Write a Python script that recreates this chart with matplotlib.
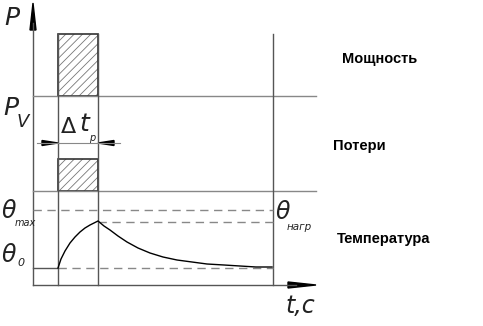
import matplotlib
matplotlib.use("Agg")
import matplotlib.pyplot as plt
from matplotlib.patches import Rectangle, Polygon

# schematic layout (pixel space of the original drawing)
x_axis = 33
x_on, x_off, x_end = 58, 98, 273
x_right = 316
y_top, y_p_sep, y_v_sep, y_base = 3, 96, 191, 285
power_box = [34, 96]        # top, bottom of hatched power pulse
loss_box = [159, 191]       # top, bottom of hatched loss pulse
y_theta_max = 210
y_theta_heat = 222
y_theta0 = 268

# temperature curve
curve_x = [58, 61, 65, 70, 75, 80, 85, 90, 94, 98,
           104, 110, 118, 127, 138, 150, 163, 177, 192, 207, 224, 240, 256, 272]
curve_y = [268, 259, 251, 243, 237, 232, 228, 225, 223, 221,
           226, 230, 236, 242, 248, 253, 257, 260, 262, 264, 265, 266, 267, 267]

labels = ["Мощность", "Потери", "Температура"]
label_x = [380, 359, 384]
label_y = [59, 146, 239]

gray = "#555555"
lgray = "#888888"

plt.rcParams['hatch.linewidth'] = 0.6
fig = plt.figure(figsize=(4.83, 3.26), dpi=100)
ax = fig.add_axes([0, 0, 1, 1])
ax.set_xlim(0, 483)
ax.set_ylim(326, 0)
ax.axis("off")

# axes
ax.plot([x_axis, x_axis], [y_top + 20, y_base], color=gray, lw=1)
ax.add_patch(Polygon([[x_axis, y_top], [x_axis - 3, y_top + 27], [x_axis + 3, y_top + 27]],
                     closed=True, color="black"))
ax.plot([x_axis, x_right - 20], [y_base, y_base], color=gray, lw=1)
ax.add_patch(Polygon([[x_right, y_base], [x_right - 28, y_base - 3], [x_right - 28, y_base + 3]],
                     closed=True, color="black"))

# separators
for y in [y_p_sep, y_v_sep]:
    ax.plot([x_axis, x_right], [y, y], color=lgray, lw=1)

# verticals
ax.plot([x_on, x_on], [power_box[0], y_base], color=gray, lw=1)
ax.plot([x_off, x_off], [power_box[0], y_base], color=gray, lw=1)
ax.plot([x_end, x_end], [power_box[0], y_base], color=gray, lw=1)

# hatched pulses
for top, bot in [power_box, loss_box]:
    ax.add_patch(Rectangle((x_on, top), x_off - x_on, bot - top, facecolor="white",
                           edgecolor="#777777", hatch="////", lw=0))
    ax.add_patch(Rectangle((x_on, top), x_off - x_on, bot - top, fill=False,
                           edgecolor="#333333", lw=1.2))

# delta t dimension
y_dt = 143
ax.plot([37, 120], [y_dt, y_dt], color=lgray, lw=0.8)
ax.add_patch(Polygon([[x_on, y_dt], [x_on - 16, y_dt - 2.5], [x_on - 16, y_dt + 2.5]], closed=True, color="black"))
ax.add_patch(Polygon([[x_off, y_dt], [x_off + 16, y_dt - 2.5], [x_off + 16, y_dt + 2.5]], closed=True, color="black"))

# temperature levels
dash = dict(color=lgray, lw=1, dashes=(6, 4))
ax.plot([x_axis, x_end], [y_theta_max, y_theta_max], **dash)
ax.plot([x_off, x_end], [y_theta_heat, y_theta_heat], **dash)
ax.plot([x_on, x_end], [y_theta0, y_theta0], **dash)
ax.plot([x_axis, x_on], [y_theta0, y_theta0], color=gray, lw=1)
ax.plot(curve_x, curve_y, color="black", lw=1)

# symbols
sym = dict(family="DejaVu Sans", style="italic",
           color="#222222", va="center", ha="left")
ax.text(4, 18, "P", fontsize=18, **sym)
ax.text(3, 108, "P", fontsize=18, **sym)
ax.text(17, 122, "V", fontsize=13, **sym)
ax.text(61, 127, "Δ", family="DejaVu Sans", fontsize=16, color="#222222", va="center", ha="left")
ax.text(79, 124, "t", fontsize=18, **sym)
ax.text(89, 138, "p", fontsize=7, **sym)
ax.text(2, 211, "θ", fontsize=17, **sym)
ax.text(15, 223, "max", fontsize=7, **sym)
ax.text(2, 255, "θ", fontsize=17, **sym)
ax.text(17, 263, "0", fontsize=8, **sym)
ax.text(276, 212, "θ", fontsize=17, **sym)
ax.text(287, 227, "нагр", fontsize=7.5, **sym)
ax.text(285, 306, "t,c", fontsize=17, **sym)

for txt, x, y in zip(labels, label_x, label_y):
    ax.text(x, y, txt, family="Liberation Sans", weight="bold", fontsize=10.5,
            ha="center", va="center", color="black")

fig.savefig("out.png", dpi=100)
